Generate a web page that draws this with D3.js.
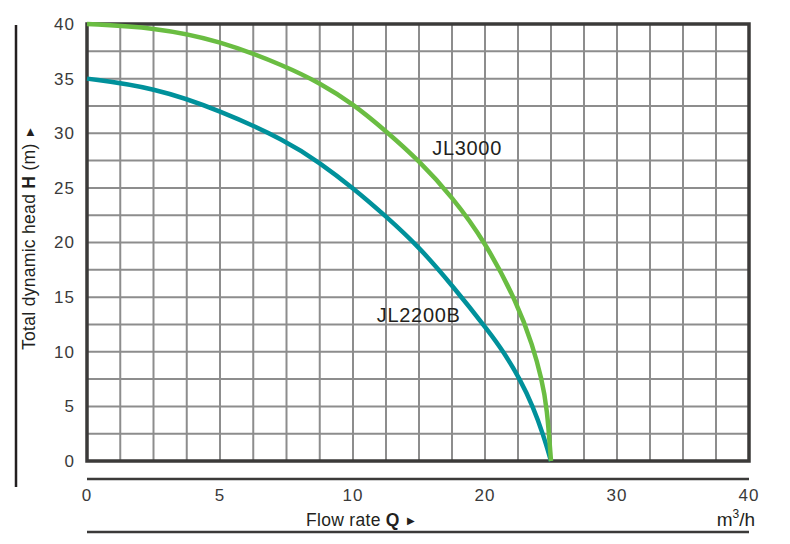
<!DOCTYPE html>
<html>
<head>
<meta charset="utf-8">
<script src="https://cdn.jsdelivr.net/npm/d3@7"></script>
<style>
  html, body { margin: 0; padding: 0; background: #fff; }
  svg { display: block; font-family: "Liberation Sans", Arial, sans-serif; }
</style>
</head>
<body>
<svg id="chart" width="790" height="544"></svg>
<script>
// pump curves
const seriesNames = ['JL2200B', 'JL3000'];
const seriesColours = ['#00919b', '#6abd42'];

const flowJL2200B = [0, 2.5, 5, 7.5, 8.75, 10, 12.5, 15, 17.5, 20.4, 21.4, 22.65, 23.65, 24.4, 25];
const headJL2200B = [35, 34.2, 32.1, 29.3, 27.3, 25.0, 22.4, 19.6, 16.1, 11.7, 10.0, 7.5, 4.95, 2.45, 0];

const flowJL3000 = [0, 2.5, 5, 7.5, 8.75, 10, 12.5, 15, 17.5, 20, 22.5, 23.6, 24.3, 24.7, 25];
const headJL3000 = [40, 39.7, 38.5, 36.1, 34.6, 32.7, 30.2, 27.5, 24.2, 20.1, 14.3, 10.6, 7.5, 4.9, 0];

const xTicks = [0, 5, 10, 20, 30, 40];
const yTicks = [0, 5, 10, 15, 20, 25, 30, 35, 40];

function drawChart(svgEl) {
    const svg = d3.select(svgEl);

    const left = 87, right = 749, top = 24, bottom = 461;

    // the sheet uses a broken flow axis: 0-10 gets as much room as 10-30
    const x = d3.scaleLinear().domain([0, 10, 40]).range([left, 353, right]);
    const y = d3.scaleLinear().domain([0, 40]).range([bottom, top]);

    const gridX = d3.range(0, 10, 1.25).concat(d3.range(10, 40.01, 2.5));
    const gridY = d3.range(0, 40.01, 2.5);

    const grid = svg.append('g').attr('stroke', '#8d8d8d').attr('stroke-width', 2);
    grid.selectAll('line.v')
        .data(gridX)
        .enter()
        .append('line')
        .attr('class', 'v')
        .attr('x1', d => x(d)).attr('x2', d => x(d))
        .attr('y1', top).attr('y2', bottom);
    grid.selectAll('line.h')
        .data(gridY)
        .enter()
        .append('line')
        .attr('class', 'h')
        .attr('x1', left).attr('x2', right)
        .attr('y1', d => y(d)).attr('y2', d => y(d));

    svg.append('rect')
        .attr('x', left).attr('y', top)
        .attr('width', right - left).attr('height', bottom - top)
        .attr('fill', 'none')
        .attr('stroke', '#3b3a39')
        .attr('stroke-width', 3.5);

    const series = [
        { name: seriesNames[0], colour: seriesColours[0], pts: flowJL2200B.map((q, i) => [q, headJL2200B[i]]) },
        { name: seriesNames[1], colour: seriesColours[1], pts: flowJL3000.map((q, i) => [q, headJL3000[i]]) }
    ];

    // basis smooths out the small reading errors, ends stay pinned
    const line = d3.line()
        .x(d => x(d[0]))
        .y(d => y(d[1]))
        .curve(d3.curveBasis);

    svg.selectAll('path.curve')
        .data(series)
        .enter()
        .append('path')
        .attr('class', 'curve')
        .attr('d', d => line(d.pts))
        .attr('fill', 'none')
        .attr('stroke', d => d.colour)
        .attr('stroke-width', 4.5)
        .attr('stroke-linecap', 'butt');

    // curve names, placed in data units
    const labelAt = { JL2200B: [11.8, 12.7], JL3000: [16, 28.0] };
    svg.selectAll('text.name')
        .data(series)
        .enter()
        .append('text')
        .attr('class', 'name')
        .attr('x', d => x(labelAt[d.name][0]))
        .attr('y', d => y(labelAt[d.name][1]))
        .attr('font-size', '20px')
        .attr('letter-spacing', '0.7px')
        .attr('fill', '#231f20')
        .text(d => d.name);

    // y tick labels
    svg.selectAll('text.ytick')
        .data(yTicks)
        .enter()
        .append('text')
        .attr('class', 'ytick')
        .attr('x', 75)
        .attr('y', d => y(d))
        .attr('dy', '0.35em')
        .attr('text-anchor', 'end')
        .attr('font-size', '17px')
        .attr('letter-spacing', '1px')
        .attr('fill', '#3a3a3a')
        .text(d => d);

    // x axis rule + tick labels
    svg.append('line')
        .attr('x1', left).attr('x2', right)
        .attr('y1', 479).attr('y2', 479)
        .attr('stroke', '#3b3a39').attr('stroke-width', 2.5);

    svg.selectAll('text.xtick')
        .data(xTicks)
        .enter()
        .append('text')
        .attr('class', 'xtick')
        .attr('x', d => x(d))
        .attr('y', 495)
        .attr('dy', '0.35em')
        .attr('text-anchor', 'middle')
        .attr('font-size', '17px')
        .attr('letter-spacing', '1px')
        .attr('fill', '#3a3a3a')
        .text(d => d);

    const xTitle = svg.append('text')
        .attr('x', 306)
        .attr('y', 526)
        .attr('font-size', '17.5px')
        .attr('letter-spacing', '0.3px')
        .attr('fill', '#231f20');
    xTitle.append('tspan').text('Flow rate ');
    xTitle.append('tspan').attr('font-weight', 'bold').text('Q');
    xTitle.append('tspan').attr('font-size', '10px').attr('dx', 7).attr('dy', -2).text('▶');

    const unit = svg.append('text')
        .attr('x', 755)
        .attr('y', 526)
        .attr('text-anchor', 'end')
        .attr('font-size', '19px')
        .attr('fill', '#231f20');
    unit.append('tspan').text('m');
    unit.append('tspan').attr('font-size', '12px').attr('dy', -8).text('3');
    unit.append('tspan').attr('dy', 8).text('/h');

    svg.append('line')
        .attr('x1', left).attr('x2', right)
        .attr('y1', 532).attr('y2', 532)
        .attr('stroke', '#3b3a39').attr('stroke-width', 2.5);

    // y title with its own rule
    svg.append('line')
        .attr('x1', 16).attr('x2', 16)
        .attr('y1', 25).attr('y2', 487)
        .attr('stroke', '#231f20').attr('stroke-width', 2.5);

    const yTitle = svg.append('text')
        .attr('transform', 'translate(35, 350) rotate(-90)')
        .attr('font-size', '17.5px')
        .attr('letter-spacing', '0.3px')
        .attr('fill', '#231f20');
    yTitle.append('tspan').text('Total dynamic head ');
    yTitle.append('tspan').attr('font-weight', 'bold').text('H');
    yTitle.append('tspan').text(' (m)');
    yTitle.append('tspan').attr('font-size', '10px').attr('dx', 7).attr('dy', -2).text('▶');
}

drawChart(document.getElementById('chart'));
</script>
</body>
</html>
